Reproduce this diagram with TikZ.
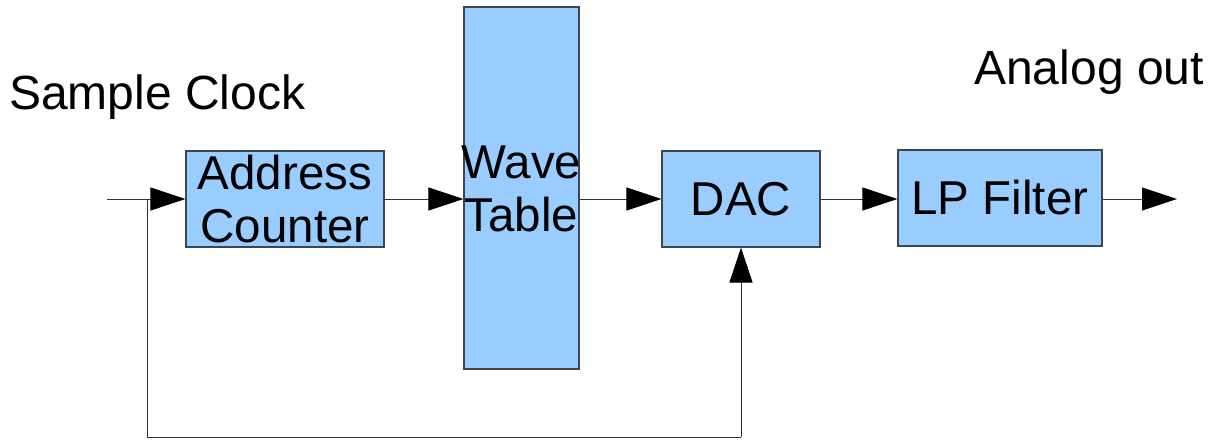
\documentclass[tikz,border=0pt]{standalone}
\usepackage{fontspec}
\setmainfont{Liberation Sans}
\usetikzlibrary{arrows.meta}
\definecolor{boxfill}{HTML}{99CCFF}
\definecolor{boxline}{HTML}{3C4650}
\definecolor{wire}{HTML}{333333}
\tikzset{
  blk/.style={draw=boxline, line width=1.1pt, fill=boxfill, inner sep=0pt, align=center,
    font=\fontsize{47.5}{53}\selectfont},
  lbl/.style={inner sep=0pt, align=center, font=\fontsize{48}{53}\selectfont},
  wirearrow/.style={draw=wire, line width=1pt, -{Triangle[length=35pt,width=23pt,fill=black,color=black]}},
  plainwire/.style={draw=wire, line width=1pt}
}
\begin{document}
\begin{tikzpicture}[x=1pt,y=-1pt]
\useasboundingbox (0,0) rectangle (1217,441);
\node[blk, minimum width=198pt, minimum height=96pt] (ac) at (285,199) {Address\\Counter};
\node[blk, minimum width=115pt, minimum height=362pt] (wt) at (521.5,188) {};
\node[lbl, font=\fontsize{47.5}{53}\selectfont] (wtl) at (521.5,189) {Wave\\Table};
\node[blk, minimum width=158pt, minimum height=96pt] (dac) at (741,199) {DAC};
\node[blk, minimum width=204pt, minimum height=96pt] (lp) at (1000,198) {LP Filter};
\node[lbl, anchor=west] (sc) at (9,97) {Sample Clock};
\node[lbl, anchor=east] (ao) at (1204,72) {Analog out};
\coordinate (in) at (107,199);
\coordinate (j) at (147,199);
\coordinate (bl) at (147,437);
\coordinate (br) at (741,437);
\coordinate (out) at (1177,199);
\draw[wirearrow] (in) -- (ac.west);
\draw[wirearrow] (ac.east) -- (ac.east -| wt.west);
\draw[wirearrow] (wt.east |- dac.west) -- (dac.west);
\draw[wirearrow] (dac.east) -- (dac.east -| lp.west);
\draw[wirearrow] (lp.east |- out) -- (out);
\draw[plainwire] (j) -- (bl) -- (br);
\draw[wirearrow] (br) -- (dac.south);
\end{tikzpicture}
\end{document}
